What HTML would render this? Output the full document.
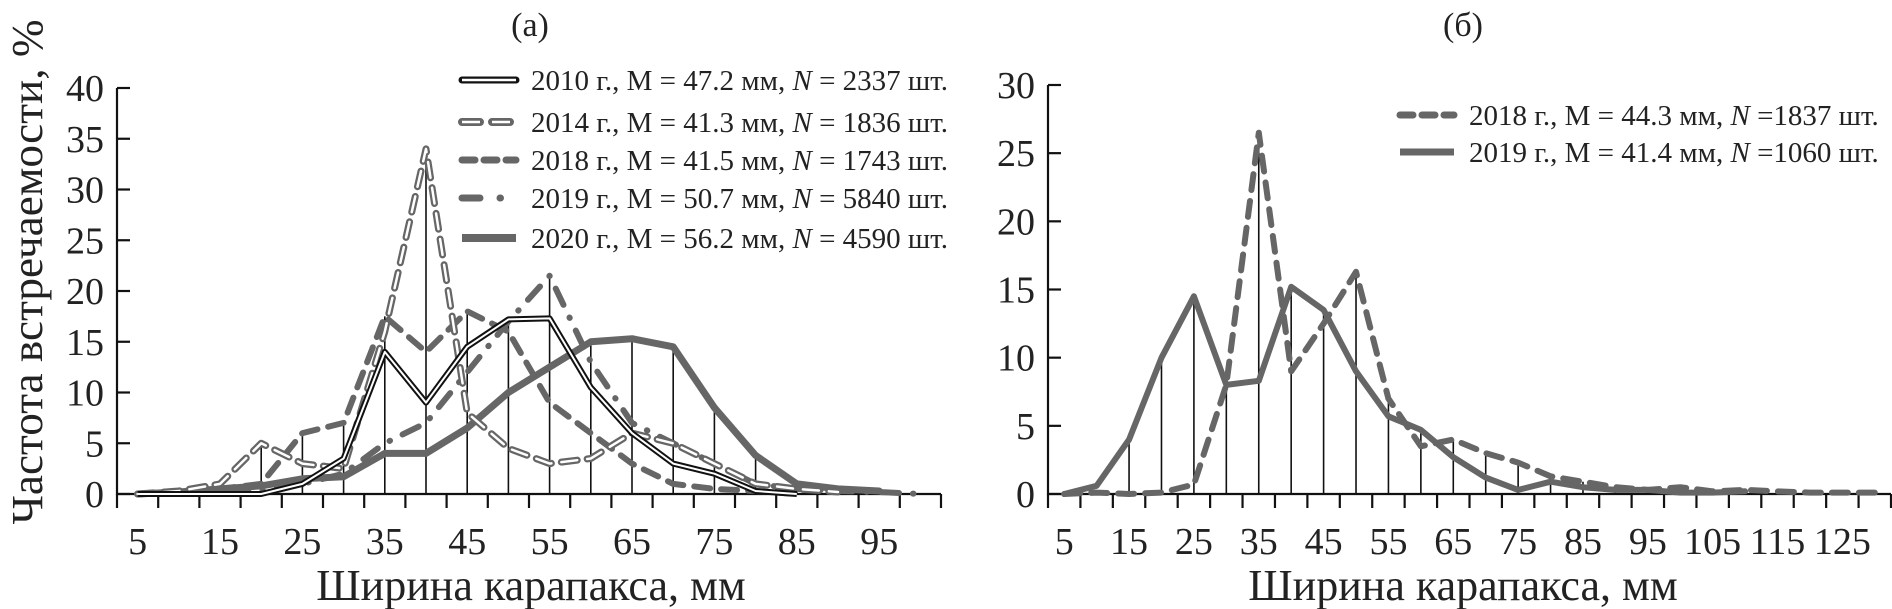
<!DOCTYPE html>
<html><head><meta charset="utf-8">
<style>
html,body{margin:0;padding:0;background:#fff;}
svg{display:block;font-family:"Liberation Serif",serif;}
</style></head>
<body>
<svg id="chart" width="1892" height="609" viewBox="0 0 1892 609" xmlns="http://www.w3.org/2000/svg"></svg>
<script>
// ---- Panel (a) data ----
const catsA = [5,10,15,20,25,30,35,40,45,50,55,60,65,70,75,80,85,90,95,100];
const s2010 = [0,0,0,0,1,3.5,14,9,14.5,17.2,17.3,10.5,6,3,2,0.3,0,null,null,null];
const s2014 = [0,0.3,1,5,3,2.5,16,34,8,4.5,3,3.5,6,5,3,1,0.5,0.2,null,null];
const s2018a = [0,0.2,0.5,1,6,7,17.5,14,18,16,9,6,3,1,0.5,0.3,0,null,null,null];
const s2019a = [0,0,0,0.3,1,2,5,7,12,17,21.5,13,7,5,3,1,0.5,0.3,0.2,0];
const s2020 = [0,0.2,0.5,0.8,1.5,1.7,4,4,6.5,10,12.5,15,15.3,14.5,8.5,3.8,1,0.5,0.3,null];
const ticksA = [0,5,10,15,20,25,30,35,40];
const xLabelsA = [5,15,25,35,45,55,65,75,85,95];
const dropA = [20,25,30,35,40,45,50,55,60,65,70,75,80,85];
// ---- Panel (b) data ----
const catsB = [5,10,15,20,25,30,35,40,45,50,55,60,65,70,75,80,85,90,95,100,105,110,115,120,125,130];
const s2018b = [0,0.1,0,0.1,0.7,8,26.5,9,12.5,16.3,7,3.5,4,3,2.3,1.3,0.9,0.5,0.3,0.5,0.2,0.3,0.2,0.1,0.1,0.1];
const s2019b = [0,0.6,4,10,14.5,8,8.3,15.2,13.5,9,5.7,4.7,2.7,1.2,0.3,0.9,0.5,0.3,0.3,0.1,0.1,0.2,null,null,null,null];
const ticksB = [0,5,10,15,20,25,30];
const xLabelsB = [5,15,25,35,45,55,65,75,85,95,105,115,125];
const dropB = [15,20,25,30,35,40,45,50,55,60,65,70,75,80,85,90,95,100,105];

const NS='http://www.w3.org/2000/svg';
const svg=document.getElementById('chart');
function mk(tag,attrs,parent){const e=document.createElementNS(NS,tag);for(const k in attrs)e.setAttribute(k,attrs[k]);(parent||svg).appendChild(e);return e;}
function txt(x,y,s,size,anchor,parent){const t=mk('text',{x:x,y:y,'font-size':size,'text-anchor':anchor||'middle',fill:'#222'},parent);t.textContent=s;return t;}

function panel(cfg){
  const g=mk('g',{});
  
  
  const n=cfg.cats.length, step=(cfg.x1-cfg.x0)/n;
  const X=v=>cfg.x0+step*(cfg.cats.indexOf(v)+0.5);
  const Y=v=>cfg.y0-(v/cfg.ymax)*(cfg.y0-cfg.ytop);
  cfg.drops.forEach(c=>{
    const i=cfg.cats.indexOf(c);let m=0;
    cfg.series.forEach(s=>{if(s.data[i]!=null&&s.data[i]>m)m=s.data[i];});
    const l=mk('line',{x1:X(c),x2:X(c),y1:cfg.y0,y2:Y(m),stroke:'#111','stroke-width':1.6},g);
    
    
  });
  const ax=mk('path',{d:`M${cfg.x0},${cfg.ytop} V${cfg.y0} H${cfg.x1}`,fill:'none',stroke:'#111','stroke-width':2.2},g);
  
  
  cfg.yticks.forEach(v=>{
    mk('line',{x1:cfg.x0,x2:cfg.x0+13,y1:Y(v),y2:Y(v),stroke:'#111','stroke-width':2.2},g);
    const t=txt(cfg.x0-13,Y(v)+13,String(v),38,'end',g);
    
    
  });
  for(let k=0;k<=n;k++){mk('line',{x1:cfg.x0+k*step,x2:cfg.x0+k*step,y1:cfg.y0,y2:cfg.y0+14,stroke:'#111','stroke-width':2.2},g);}
  cfg.xlabels.forEach(v=>{
    const t=txt(X(v),cfg.y0+60,String(v),38,'middle',g);
    
    
  });
  cfg.series.forEach(s=>{
    let d='';let pen=false;
    s.data.forEach((v,i)=>{if(v==null){pen=false;return;}d+=(pen?'L':'M')+(cfg.x0+step*(i+0.5)).toFixed(1)+','+Y(v).toFixed(1)+' ';pen=true;});
    s.styles.forEach(st=>{
      const p=mk('path',Object.assign({d:d,fill:'none','stroke-linejoin':'round'},st),g);
      
      
    });
  });
  return g;
}
const G='#666';
const st2010=[{stroke:'#111','stroke-width':6},{stroke:'#fff','stroke-width':2}];
const st2014=[{stroke:G,'stroke-width':7,'stroke-dasharray':'16 10','stroke-linecap':'round'},{stroke:'#fff','stroke-width':2.5,'stroke-dasharray':'16 10','stroke-linecap':'round'}];
const st2018=[{stroke:G,'stroke-width':6,'stroke-dasharray':'16 11','stroke-linecap':'round'}];
const st2019=[{stroke:G,'stroke-width':6,'stroke-dasharray':'18 14 0.5 14','stroke-linecap':'round'}];
const st2020=[{stroke:G,'stroke-width':7,'stroke-linecap':'round'}];

panel({name:'panel-a',cats:catsA,x0:117,x1:941,y0:494,ytop:88,ymax:40,yticks:ticksA,xlabels:xLabelsA,drops:dropA,
  series:[{name:'series-2020',data:s2020,styles:st2020},{name:'series-2019',data:s2019a,styles:st2019},{name:'series-2018',data:s2018a,styles:st2018},{name:'series-2014',data:s2014,styles:st2014},{name:'series-2010',data:s2010,styles:st2010}]});
panel({name:'panel-b',cats:catsB,x0:1048,x1:1891,y0:494,ytop:85,ymax:30,yticks:ticksB,xlabels:xLabelsB,drops:dropB,
  series:[{name:'series-2019',data:s2019b,styles:[{stroke:G,'stroke-width':6,'stroke-linecap':'round'}]},{name:'series-2018',data:s2018b,styles:[{stroke:G,'stroke-width':6,'stroke-dasharray':'16 11','stroke-linecap':'round'}]}]});

let t;
t=txt(530,36,'(а)',34);
t=txt(1463,36,'(б)',34);
t=txt(531,600,'Ширина карапакса, мм',44);
t=txt(1463,600,'Ширина карапакса, мм',44);
t=mk('text',{x:0,y:0,'font-size':44,'text-anchor':'middle',fill:'#222',transform:'translate(42,272) rotate(-90)',textLength:505,lengthAdjust:'spacingAndGlyphs'});
t.textContent='Частота встречаемости, %';



function legend(x,y,styles,label,name){
  const g=mk('g',{});
  
  
  styles.forEach(st=>mk('path',Object.assign({d:`M${x+4},${y} H${x+58}`,fill:'none'},st),g));
  const tt=mk('text',{x:x+73,y:y+10,'font-size':29,fill:'#222'},g);
  const parts=label.split('N');
  tt.appendChild(document.createTextNode(parts[0]));
  const it=mk('tspan',{'font-style':'italic'},tt);it.textContent='N';
  tt.appendChild(document.createTextNode(parts[1]));
}
const lsSolid=[{stroke:'#111','stroke-width':7,'stroke-linecap':'round'},{stroke:'#fff','stroke-width':2.5}];
legend(458,80,lsSolid,'2010 г., М = 47.2 мм, N = 2337 шт.','legend-entry-2010');
legend(458,122,[{stroke:G,'stroke-width':8,'stroke-dasharray':'18 12','stroke-linecap':'round'},{stroke:'#fff','stroke-width':2.5,'stroke-dasharray':'18 12'}],'2014 г., М = 41.3 мм, N = 1836 шт.','legend-entry-2014');
legend(458,160,[{stroke:G,'stroke-width':7,'stroke-dasharray':'13 9','stroke-linecap':'round'}],'2018 г., М = 41.5 мм, N = 1743 шт.','legend-entry-2018');
legend(458,198,[{stroke:G,'stroke-width':7,'stroke-dasharray':'18 20 0.5 30','stroke-linecap':'round'}],'2019 г., М = 50.7 мм, N = 5840 шт.','legend-entry-2019');
legend(458,238,[{stroke:G,'stroke-width':8}],'2020 г., М = 56.2 мм, N = 4590 шт.','legend-entry-2020');
legend(1396,115,[{stroke:G,'stroke-width':7,'stroke-dasharray':'13 9','stroke-linecap':'round'}],'2018 г., М = 44.3 мм, N =1837 шт.','legend-entry-2018-b');
legend(1396,152,[{stroke:G,'stroke-width':7}],'2019 г., М = 41.4 мм, N =1060 шт.','legend-entry-2019-b');
</script>
</body></html>
